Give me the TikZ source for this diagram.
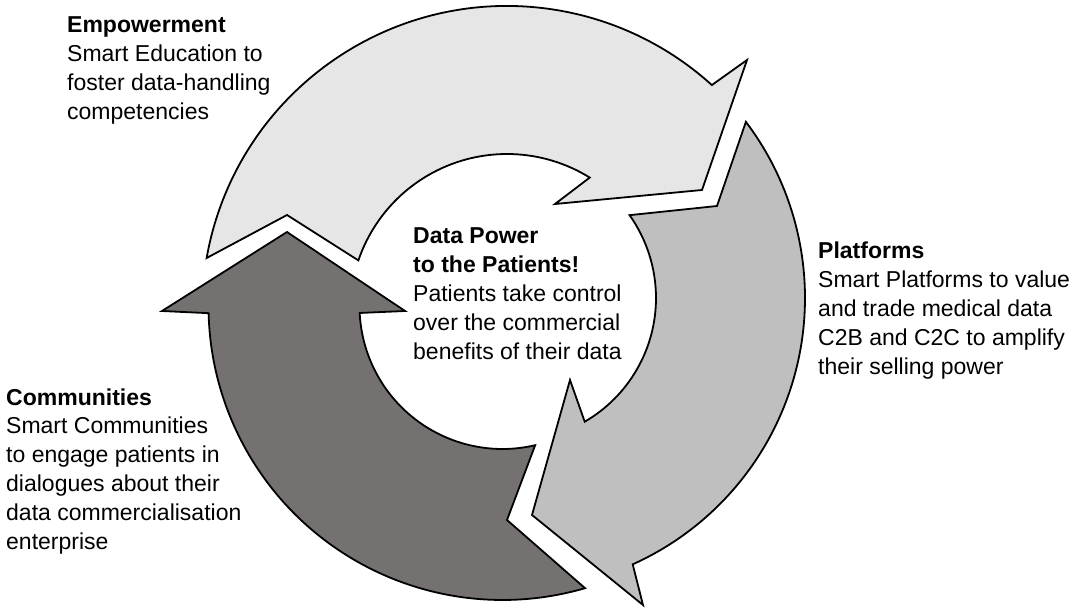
\documentclass[tikz,border=0pt]{standalone}
\usepackage{fontspec}
\setmainfont{Liberation Sans}
\usetikzlibrary{calc}
\definecolor{lightarrow}{HTML}{E6E6E6}
\definecolor{midarrow}{HTML}{BFBFBF}
\definecolor{darkarrow}{HTML}{767171}
\begin{document}
\begin{tikzpicture}[x=1pt,y=1pt,
  cyclearrow/.style={draw=black, line width=1.8pt, line join=miter},
  textblock/.style={anchor=base west, inner sep=0pt, text=black,
    font=\fontsize{23}{28.8}\selectfont}]
\useasboundingbox (0,0) rectangle (1075,608);

% centres of the three block arcs
\coordinate (c1) at (507,297);
\coordinate (c2) at (513,310);
\coordinate (c3) at (502.5,302);

% Empowerment arrow (top)
\path[cyclearrow, fill=lightarrow]
  ($(c1)+(170:305)$) arc[start angle=170, end angle=47.8, radius=305]
  -- (747,548) -- (702,418) -- (555,404)
  -- ($(c1)+(58.2:157)$) arc[start angle=58.2, end angle=161.2, radius=157]
  -- (287,393) -- cycle;

% Platforms arrow (right)
\path[cyclearrow, fill=midarrow]
  ($(c2)+(37.1:292)$) arc[start angle=37.1, end angle=-65.8, radius=292]
  -- (643,3) -- (532,93) -- (570,228)
  -- ($(c2)+(-59.9:143)$) arc[start angle=-59.9, end angle=35.4, radius=143]
  -- (717,402) -- cycle;

% Communities arrow (left)
\path[cyclearrow, fill=darkarrow]
  ($(c3)+(-73.7:294)$) -- (507,88)
  -- ($(c3)+(-76.8:143)$) arc[start angle=-76.8, end angle=-177.2, radius=143]
  -- (405,297) -- (287,376) -- (162,297)
  -- ($(c3)+(181.4:294)$) arc[start angle=181.4, end angle=286.3, radius=294]
  -- cycle;

% texts
\node[textblock] (empowerment) at (67,575) {\begin{tabular}[t]{@{}l@{}}\textbf{Empowerment}\\Smart Education to\\foster data-handling\\competencies\end{tabular}};
\node[textblock] (platforms) at (818,349) {\begin{tabular}[t]{@{}l@{}}\textbf{Platforms}\\Smart Platforms to value\\and trade medical data\\C2B and C2C to amplify\\their selling power\end{tabular}};
\node[textblock] (communities) at (6,203) {\begin{tabular}[t]{@{}l@{}}\textbf{Communities}\\Smart Communities\\to engage patients in\\dialogues about their\\data commercialisation\\enterprise\end{tabular}};
\node[textblock] (centre) at (413,364) {\begin{tabular}[t]{@{}l@{}}\textbf{Data Power}\\\textbf{to the Patients!}\\Patients take control\\over the commercial\\benefits of their data\end{tabular}};
\end{tikzpicture}
\end{document}
